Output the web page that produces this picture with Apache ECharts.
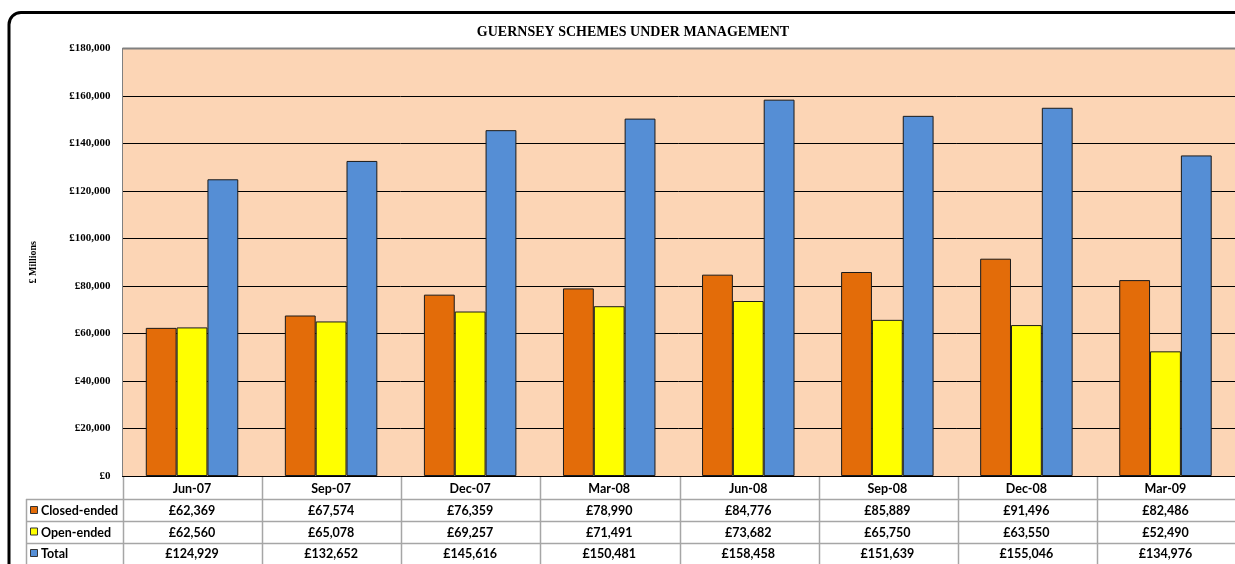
<!DOCTYPE html>
<html><head><meta charset="utf-8">
<script src="https://cdn.jsdelivr.net/npm/echarts@6/dist/echarts.min.js"></script>
<style>html,body{margin:0;padding:0;background:#fff}#c{width:1235px;height:564px}</style>
</head><body><div id="c"></div>
<script>
const categories = ['Jun-07','Sep-07','Dec-07','Mar-08','Jun-08','Sep-08','Dec-08','Mar-09'];
const closedEnded = [62369,67574,76359,78990,84776,85889,91496,82486];
const openEnded = [62560,65078,69257,71491,73682,65750,63550,52490];
const total = [124929,132652,145616,150481,158458,151639,155046,134976];
const seriesNames = ['Closed-ended','Open-ended','Total'];
const seriesColors = ['#E36C09','#FFFF00','#558ED5'];
const yTicks = [0,20000,40000,60000,80000,100000,120000,140000,160000,180000];

const fmt = v => '£' + v.toLocaleString('en-GB');
const chart = echarts.init(document.getElementById('c'));
const G = {left:122.5, top:48.5, width:1114, height:427.5};
const tableFont = 'bold 12.5px Lato';

chart.setOption({
  animation:false,
  backgroundColor:'#fff',
  title:{text:'GUERNSEY SCHEMES UNDER MANAGEMENT', left:628, top:20, textAlign:'center',
    textStyle:{fontFamily:'Liberation Serif', fontWeight:'bold', fontSize:14, color:'#000'}},
  grid:{left:G.left, top:G.top, width:G.width, height:G.height, show:true, backgroundColor:'#FCD5B5', borderWidth:0},
  xAxis:{type:'category', data:categories,
    axisLine:{show:true, lineStyle:{color:'#000', width:1}},
    axisTick:{show:false},
    axisLabel:{show:true, margin:6, fontFamily:'Lato', fontWeight:'bold', fontSize:12.5, color:'#000'}},
  yAxis:{type:'value', min:yTicks[0], max:yTicks[yTicks.length-1], interval:20000,
    name:'£ Millions', nameLocation:'middle', nameGap:84, nameRotate:90,
    nameTextStyle:{fontFamily:'Liberation Serif', fontWeight:'bold', fontSize:10, color:'#000'},
    axisLine:{show:true, lineStyle:{color:'#808080', width:1}},
    axisTick:{show:false},
    splitLine:{show:true, lineStyle:{color:'#000', width:1}},
    axisLabel:{margin:12, formatter:v=>fmt(v), fontFamily:'Liberation Serif', fontWeight:'bold', fontSize:11, color:'#000'}},
  series:[closedEnded, openEnded, total].map((d,i)=>({
    name:seriesNames[i], type:'bar', data:d, barGap:'0%', barCategoryGap:'33.5%',
    itemStyle:{color:seriesColors[i], borderColor:'#1a1a1a', borderWidth:1}
  }))
});

const rows = [closedEnded, openEnded, total];
const els = [];
const yB = G.top + G.height;
const rowLines = [499, 521, 543];
const rowCenters = [511, 532.5, 554];
const left = 26;
const right = G.left + G.width;
const lineStyle = {stroke:'#a6a6a6', lineWidth:1.5};
els.push({type:'line', shape:{x1:G.left, y1:G.top, x2:right, y2:G.top}, style:{stroke:'#808080', lineWidth:2}, z:10});
rowLines.forEach(y=>els.push({type:'line', shape:{x1:left, y1:y+0.5, x2:right, y2:y+0.5}, style:lineStyle}));
els.push({type:'line', shape:{x1:left+0.5, y1:499, x2:left+0.5, y2:570}, style:lineStyle});
for(let i=0;i<=categories.length;i++){
  const x = Math.round(G.left + G.width*i/categories.length)+0.5;
  els.push({type:'line', shape:{x1:x, y1:yB, x2:x, y2:570}, style:lineStyle});
}
seriesNames.forEach((n,r)=>{
  els.push({type:'rect', shape:{x:30.5, y:rowCenters[r]-4.5, width:7, height:7}, style:{fill:seriesColors[r], stroke:'#333', lineWidth:1}});
  els.push({type:'text', x:41, y:rowCenters[r], style:{text:n, font:tableFont, fill:'#000', align:'left', verticalAlign:'middle'}});
});
rows.forEach((d,r)=>{
  d.forEach((v,i)=>{
    const cx = chart.convertToPixel({xAxisIndex:0}, categories[i]);
    els.push({type:'text', x:cx, y:rowCenters[r], style:{text:fmt(v), font:tableFont, fill:'#000', align:'center', verticalAlign:'middle'}});
  });
});
els.push({type:'rect', shape:{x:9, y:12.5, width:1260, height:600, r:12}, style:{fill:'none', stroke:'#000', lineWidth:3}, z:20});
chart.setOption({graphic:{elements:els}});
</script></body></html>
